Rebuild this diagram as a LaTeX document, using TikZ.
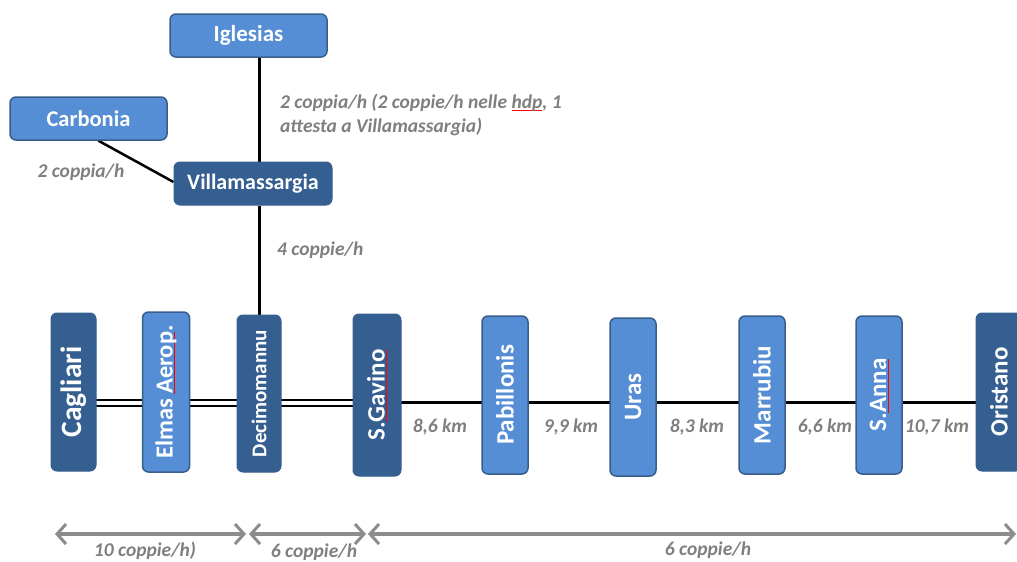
\documentclass[tikz,border=0pt]{standalone}
\usepackage{fontspec}
\setmainfont{Carlito}
\usetikzlibrary{arrows.meta,backgrounds,calc}
\definecolor{lightbl}{RGB}{85,142,213}
\definecolor{lightbd}{RGB}{56,93,138}
\definecolor{darkbl}{RGB}{54,95,145}
\definecolor{lbl}{RGB}{127,127,127}
\definecolor{arrg}{RGB}{140,140,140}
\newcommand\spellmark[1]{\setbox0\hbox{#1}\rlap{\color{red}\rule[-0.09em]{\wd0}{0.7pt}}\box0}
\tikzset{
  lightbox/.style={draw=lightbd, line width=1.5pt, fill=lightbl, rounded corners=6pt, text=white, font=\bfseries, inner sep=0pt},
  darkbox/.style={draw=darkbl, line width=1pt, fill=darkbl, rounded corners=6pt, text=white, font=\bfseries, inner sep=0pt},
  hbox/.style={minimum width=157pt, minimum height=43pt},
  vbox/.style={rotate=90, minimum width=158pt, minimum height=46pt},
  glabel/.style={text=lbl, font=\fontsize{19.5}{24}\selectfont\bfseries\itshape, inner sep=0pt},
  track/.style={line width=3pt, black},
  flow/.style={arrg, line width=4pt, {Straight Barb[length=9pt,width=20pt,line width=3pt]}-{Straight Barb[length=9pt,width=20pt,line width=3pt]}}
}
\begin{document}
\begin{tikzpicture}[x=1pt,y=-1pt]
\useasboundingbox (0,0) rectangle (1017,562);
% top nodes
\node[lightbox,hbox] (igl) at (248.5,35.5) {\fontsize{23}{26}\selectfont Iglesias};
\node[lightbox,hbox] (car) at (88.5,118.5) {\fontsize{22.5}{26}\selectfont Carbonia};
\node[darkbox,hbox,minimum width=158pt] (vil) at (253,183.5) {\fontsize{22}{26}\selectfont Villamassargia};
% stations
\node[darkbox,vbox,minimum height=45pt] (cag) at (73.5,392) {\fontsize{29.5}{32}\selectfont Cagliari};
\node[lightbox,vbox,minimum width=160pt,minimum height=47pt] (elm) at (166,392) {\fontsize{24.5}{28}\selectfont Elmas \spellmark{Aerop}.};
\node[darkbox,vbox,minimum width=157pt,minimum height=44pt] (dec) at (259,393.5) {\fontsize{21}{24}\selectfont Decimomannu};
\node[darkbox,vbox,minimum width=162pt,minimum height=48pt] (sgav) at (377,395) {\fontsize{25}{28}\selectfont S.\spellmark{Gavino}};
\node[lightbox,vbox] (pab) at (505,395) {\fontsize{25}{28}\selectfont Pabillonis};
\node[lightbox,vbox] (ura) at (633,397) {\fontsize{25}{28}\selectfont Uras};
\node[lightbox,vbox] (mar) at (762,395) {\fontsize{25}{28}\selectfont Marrubiu};
\node[lightbox,vbox] (sann) at (879,395) {\fontsize{25}{28}\selectfont S.\spellmark{Anna}};
\node[darkbox,vbox] (ori) at (999,392) {\fontsize{25}{28}\selectfont Oristano};
% connectors
\begin{scope}[on background layer]
\draw[black, line width=3pt] ($(igl.south -| dec.center)$) -- ($(vil.north -| dec.center)$);
\draw[black, line width=3pt] ($(vil.south -| dec.center)$) -- (dec.center);
\draw[black, line width=2.5pt] ($(car.south)+(10,0)$) -- ($(vil.west)+(0,-1.5)$);
\draw[black, line width=2pt, double=white, double distance=4pt] ($(cag.center)+(0,11)$) -- ($(sgav.center)+(0,8)$);
\draw[track] ($(sgav.center)+(0,7)$) -- ($(ori.center)+(0,10)$);
\end{scope}
% labels
\node[glabel, anchor=west, align=left] (lab1) at (280,115) {2 coppia/h (2 coppie/h nelle \spellmark{hdp}, 1\\attesta a Villamassargia)};
\node[glabel] (lab2) at (81,172) {2 coppia/h};
\node[glabel, anchor=west] (lab3) at (277,250) {4 coppie/h};
\node[glabel] (d1) at (440,427) {8,6 km};
\node[glabel] (d2) at (571,427) {9,9 km};
\node[glabel] (d3) at (697,427) {8,3 km};
\node[glabel] (d4) at (825,427) {6,6 km};
\node[glabel] (d5) at (937,427) {10,7 km};
% flows
\coordinate (f0) at (55,534);
\coordinate (f1) at (246,534);
\coordinate (f2) at (249,534);
\coordinate (f3) at (366,534);
\coordinate (f4) at (368,534);
\coordinate (f5) at (1016,534);
\draw[flow] (f0) -- (f1);
\draw[flow] (f2) -- (f3);
\draw[flow] (f4) -- (f5);
\node[glabel] (b1) at (145,551) {10 coppie/h)};
\node[glabel] (b2) at (314,552) {6 coppie/h};
\node[glabel] (b3) at (708,550) {6 coppie/h};
\end{tikzpicture}
\end{document}
